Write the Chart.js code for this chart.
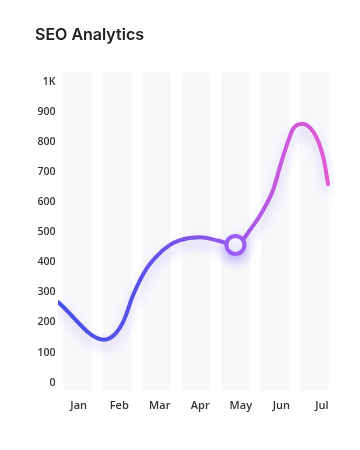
<!DOCTYPE html>
<html>
<head>
<meta charset="utf-8">
<script src="https://cdn.jsdelivr.net/npm/chart.js@4"></script>
<style>
html,body{margin:0;padding:0;background:#fff;}
#wrap{position:relative;width:360px;height:450px;}
</style>
</head>
<body>
<div id="wrap"><canvas id="c" width="360" height="450"></canvas></div>
<script>
// ---- data ----
const months = ['Jan','Feb','Mar','Apr','May','Jun','Jul'];
const bandRange = [-27, 1032];
const yTicks = [0,100,200,300,400,500,600,700,800,900,1000];
// line samples: x in month-index units, y value
const lineX = [-0.5, 0.665, 0.97, 1.18, 1.4, 1.74, 2.0, 2.33, 2.58, 3.1, 3.57, 4.0, 4.45, 4.71, 4.96, 5.13, 5.32, 5.47, 5.7, 5.91, 6.12, 6.24, 6.35];
const lineY = [268, 143, 165, 210, 290, 378, 420, 457, 473, 483, 472, 458, 522, 575, 642, 718, 796, 845, 860, 845, 796, 742, 660];
const markerIndex = 11; // the May marker

const lineData = lineX.map((x,i)=>({x:x, y:lineY[i]}));

const glowPlugin = {
  id:'glow',
  beforeDatasetDraw(chart, args){
    if(args.index===1){
      const ctx = chart.ctx;
      ctx.save();
      ctx.shadowColor = 'rgba(110,80,240,0.35)';
      ctx.shadowBlur = 12;
      ctx.shadowOffsetY = 6;
    }
  },
  afterDatasetDraw(chart, args){
    if(args.index===1){ chart.ctx.restore(); }
  }
};

function lineGradient(ctx){
  const ca = ctx.chart.chartArea;
  if(!ca) return '#7a55e8';
  const g = ctx.chart.ctx.createLinearGradient(ca.left,0,ca.right,0);
  g.addColorStop(0,'#4650e8');
  g.addColorStop(0.3,'#5a52e8');
  g.addColorStop(0.5,'#8456e8');
  g.addColorStop(0.65,'#9c5aea');
  g.addColorStop(0.82,'#cc58dc');
  g.addColorStop(1,'#e45ad2');
  return g;
}

new Chart(document.getElementById('c'), {
  data:{
    labels: months,
    datasets:[
      {
        type:'bar',
        data: months.map(()=>bandRange),
        backgroundColor:'#f8f8fa',
        borderWidth:0,
        grouped:false,
        categoryPercentage:1,
        barPercentage:0.73,
        xAxisID:'x',
        yAxisID:'y',
        order:2
      },
      {
        type:'line',
        data: lineData,
        xAxisID:'xl',
        yAxisID:'y',
        borderColor: lineGradient,
        borderWidth:4,
        borderCapStyle:'round',
        fill:false,
        cubicInterpolationMode:'monotone',
        pointRadius: c => c.dataIndex===markerIndex ? 9 : 0,
        pointBorderWidth:4,
        pointBackgroundColor:'#ffffff',
        pointBorderColor:'#9c5ef4',
        order:1
      }
    ]
  },
  options:{
    responsive:false,
    animation:false,
    events:[],
    layout:{padding:{left:35,right:26,top:26,bottom:30}},
    plugins:{
      legend:{display:false},
      tooltip:{enabled:false},
      title:{
        display:true,
        text:'SEO Analytics',
        align:'start',
        color:'#222',
        font:{family:'Inter',size:16,weight:'600'},
        padding:{top:0,bottom:27}
      }
    },
    scales:{
      x:{
        type:'category',
        display:false,
        offset:true
      },
      xl:{
        type:'linear',
        display:false,
        min:-0.5,
        max:6.5
      },
      xt:{
        type:'linear',
        position:'bottom',
        min:-0.51,
        max:6.299,
        afterBuildTicks(s){ s.ticks = months.map((m,i)=>({value:i})); },
        ticks:{
          callback:(v)=>months[v],
          color:'#333',
          font:{family:'Open Sans',size:11,weight:'600'},
          padding:8,
          autoSkip:false,
          maxRotation:0
        },
        grid:{display:false, drawTicks:false},
        border:{display:false}
      },
      y:{
        min:bandRange[0],
        max:bandRange[1],
        afterBuildTicks(s){ s.ticks = yTicks.map(v=>({value:v})); },
        ticks:{
          callback:(v)=> v===1000 ? '1K' : String(v),
          color:'#333',
          font:{family:'Open Sans',size:10.5,weight:'600'},
          padding:2.5
        },
        grid:{display:false, drawTicks:false},
        border:{display:false}
      }
    }
  },
  plugins:[glowPlugin]
});
</script>
</body>
</html>
